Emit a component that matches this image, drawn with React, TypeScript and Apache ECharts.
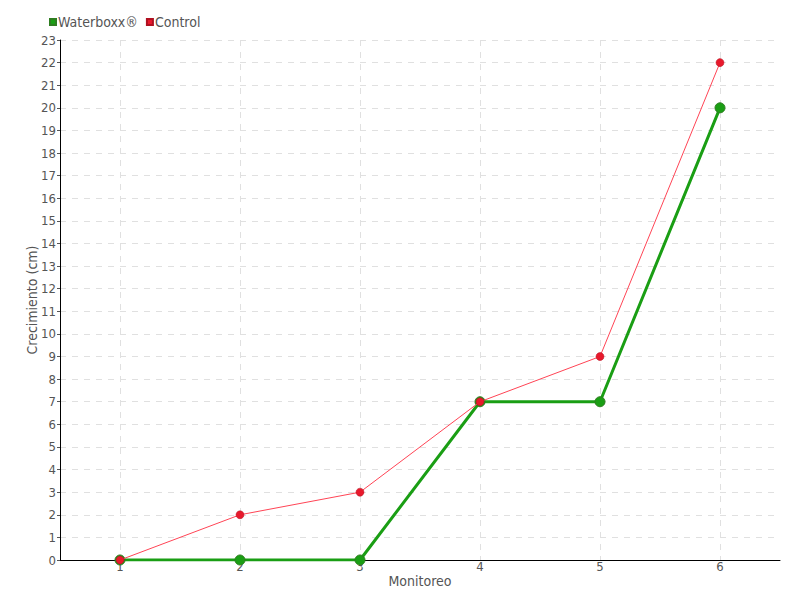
import React, { useEffect, useRef } from "react";
import * as echarts from "echarts";

const categories = ["1", "2", "3", "4", "5", "6"];
const waterboxx = [0, 0, 0, 7, 7, 20];
const control = [0, 2, 3, 7, 9, 22];

const FONT = "'Liberation Sans Narrow', 'DejaVu Sans Condensed', sans-serif";

export default function App() {
  const ref = useRef<HTMLDivElement>(null);
  useEffect(() => {
    const chart = echarts.init(ref.current!, null, { renderer: "svg" });
    chart.setOption({
      animation: false,
      textStyle: { fontFamily: FONT },
      legend: {
        left: 44,
        top: 10,
        itemWidth: 6,
        itemHeight: 6,
        itemGap: 8,
        icon: "rect",
        textStyle: { fontFamily: FONT, fontSize: 14, color: "#555", padding: [0, 0, 0, -3] },
        data: ["Waterboxx®", "Control"],
      },
      grid: { left: 60, right: 20, top: 40, bottom: 40, containLabel: false },
      xAxis: {
        type: "category",
        data: categories,
        boundaryGap: true,
        name: "Monitoreo",
        nameLocation: "middle",
        nameGap: 14,
        nameMoveOverlap: false,
        nameTextStyle: { fontFamily: FONT, fontSize: 14, color: "#555", verticalAlign: "top" },
        axisLine: { lineStyle: { color: "#000", width: 1 } },
        axisTick: { show: false, alignWithLabel: true },
        axisLabel: { color: "#555", fontSize: 13, margin: 0, fontFamily: FONT },
        splitLine: {
          show: true,
          alignWithLabel: true,
          lineStyle: { type: [6, 6], color: "#e0e0e0", width: 1 },
        },
      },
      yAxis: {
        type: "value",
        min: 0,
        max: 23,
        interval: 1,
        name: "Crecimiento (cm)",
        nameLocation: "middle",
        nameGap: 21,
        nameMoveOverlap: false,
        nameTextStyle: { fontFamily: FONT, fontSize: 14, color: "#555", verticalAlign: "bottom" },
        axisLine: { show: true, lineStyle: { color: "#000", width: 1 } },
        axisTick: { show: true, inside: false, length: 3, lineStyle: { color: "#555" } },
        axisLabel: { color: "#555", fontSize: 13, margin: 4, fontFamily: FONT },
        splitLine: { show: true, lineStyle: { type: [6, 6], color: "#e0e0e0", width: 1 } },
      },
      series: [
        {
          name: "Waterboxx®",
          type: "line",
          data: waterboxx,
          symbol: "circle",
          symbolSize: 10,
          color: "#1a9e14",
          lineStyle: { width: 3, color: "#1a9e14" },
          itemStyle: { color: "#1a9e14", borderColor: "#2e7d20", borderWidth: 1 },
          z: 2,
        },
        {
          name: "Control",
          type: "line",
          data: control,
          symbol: "circle",
          symbolSize: 8,
          color: "#e8192c",
          lineStyle: { width: 1, color: "#ff4455" },
          itemStyle: { color: "#e8192c", borderColor: "#b01020", borderWidth: 0.5 },
          z: 3,
        },
      ],
    });
    return () => chart.dispose();
  }, []);
  return <div ref={ref} style={{ width: 800, height: 600, position: "absolute", left: 0, top: 0 }} />;
}
